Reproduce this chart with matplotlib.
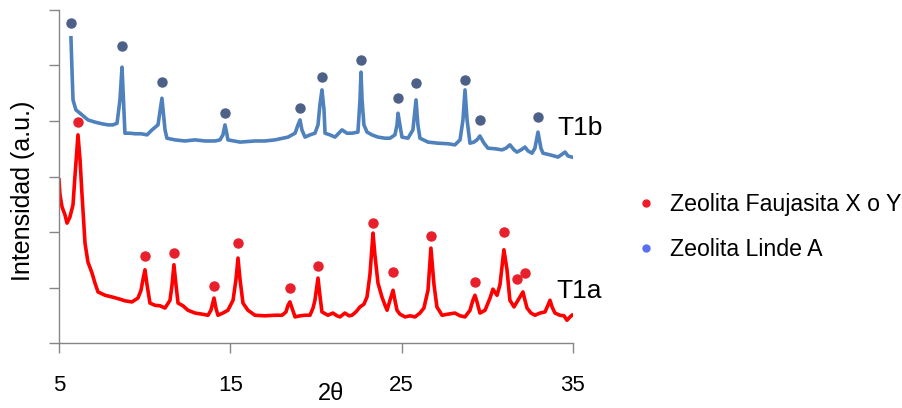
import matplotlib.pyplot as plt
from matplotlib.lines import Line2D

plt.rcParams['font.family'] = ['Liberation Sans', 'DejaVu Sans']

# T1b (Linde A) pattern
t1b_2theta = [5.70, 5.76, 5.82, 5.99, 6.23, 6.69, 7.10, 7.51, 7.86, 8.15, 8.39, 8.56, 8.68, 8.79, 8.85,
              9.14, 9.44, 9.79, 10.14, 10.43, 10.78, 11.01, 11.19, 11.30, 11.77, 12.35, 12.94, 13.52,
              14.11, 14.40, 14.57, 14.69, 14.81, 14.86, 15.57, 16.44, 17.02, 17.61, 18.37, 18.78,
              18.95, 19.07, 19.18, 19.36, 19.65, 19.94, 20.12, 20.23, 20.35, 20.47, 20.53, 20.82,
              21.11, 21.52, 21.81, 22.10, 22.45, 22.57, 22.63, 22.69, 22.80, 22.98, 23.27, 23.62,
              24.03, 24.32, 24.61, 24.73, 24.79, 24.90, 25.02, 25.37, 25.66, 25.84, 25.95, 26.07,
              26.54, 27.12, 27.71, 28.11, 28.41, 28.58, 28.70, 28.82, 28.99, 29.22, 29.40, 29.57,
              29.81, 30.04, 30.45, 30.86, 31.09, 31.32, 31.56, 31.73, 31.97, 32.20, 32.38, 32.61,
              32.78, 32.96, 33.13, 33.25, 33.66, 34.13, 34.54, 34.71, 34.94]
t1b_int = [5.50, 4.92, 4.38, 4.20, 4.14, 4.02, 3.98, 3.95, 3.93, 3.93, 3.96, 4.38, 4.97, 4.20, 3.78,
           3.78, 3.77, 3.77, 3.75, 3.84, 3.93, 4.41, 3.84, 3.69, 3.66, 3.64, 3.66, 3.64,
           3.64, 3.66, 3.75, 3.93, 3.75, 3.66, 3.62, 3.64, 3.64, 3.66, 3.71, 3.78,
           3.93, 4.02, 3.84, 3.71, 3.75, 3.78, 3.93, 4.29, 4.56, 4.20, 3.78, 3.75,
           3.71, 3.84, 3.78, 3.78, 3.80, 4.38, 4.88, 4.38, 3.93, 3.80, 3.75, 3.71,
           3.69, 3.69, 3.75, 3.93, 4.14, 3.93, 3.71, 3.69, 3.84, 4.38, 3.93, 3.69,
           3.62, 3.60, 3.59, 3.57, 3.66, 4.02, 4.56, 4.02, 3.60, 3.62, 3.66, 3.73,
           3.60, 3.51, 3.50, 3.48, 3.51, 3.57, 3.48, 3.44, 3.48, 3.53, 3.46, 3.42,
           3.51, 3.80, 3.51, 3.42, 3.39, 3.35, 3.44, 3.37, 3.35]

# T1a (Faujasita) pattern
t1a_2theta = [5.00, 5.06, 5.18, 5.35, 5.47, 5.64, 5.82, 5.93, 6.05, 6.11, 6.23, 6.34, 6.52, 6.69, 6.93,
              7.10, 7.28, 7.69, 8.09, 8.56, 8.85, 9.26, 9.61, 9.79, 9.90, 10.02, 10.14, 10.31, 10.60,
              10.90, 11.19, 11.48, 11.60, 11.71, 11.83, 11.95, 12.24, 12.53, 12.94, 13.35, 13.70,
              13.87, 14.05, 14.16, 14.28, 14.57, 14.86, 15.16, 15.33, 15.45, 15.57, 15.74, 16.03,
              16.44, 17.02, 17.61, 18.02, 18.25, 18.37, 18.48, 18.60, 18.78, 19.07, 19.36, 19.65,
              19.83, 19.94, 20.12, 20.23, 20.35, 20.70, 20.99, 21.23, 21.40, 21.69, 21.93, 22.10,
              22.33, 22.57, 22.80, 22.98, 23.15, 23.33, 23.44, 23.62, 23.85, 24.03, 24.15, 24.32,
              24.50, 24.61, 24.73, 24.90, 25.20, 25.49, 25.78, 26.07, 26.30, 26.54, 26.71, 26.89,
              27.06, 27.36, 27.71, 28.11, 28.41, 28.70, 28.99, 29.16, 29.28, 29.40, 29.57, 29.87,
              30.16, 30.33, 30.57, 30.74, 30.97, 31.15, 31.32, 31.56, 31.79, 31.97, 32.08, 32.20,
              32.32, 32.55, 32.78, 33.08, 33.37, 33.54, 33.66, 33.78, 33.95, 34.24, 34.48, 34.65,
              34.83, 34.94]
t1a_int = [2.94, 2.67, 2.45, 2.31, 2.16, 2.27, 2.49, 2.99, 3.48, 3.75, 3.30, 2.70, 1.80, 1.46, 1.26,
           1.08, 0.92, 0.86, 0.83, 0.79, 0.76, 0.74, 0.81, 0.95, 1.14, 1.32, 1.05, 0.72, 0.68,
           0.67, 0.63, 0.77, 1.05, 1.41, 1.05, 0.72, 0.67, 0.59, 0.54, 0.52, 0.50,
           0.59, 0.81, 0.63, 0.50, 0.54, 0.59, 0.77, 1.14, 1.53, 1.14, 0.72, 0.59,
           0.50, 0.49, 0.50, 0.50, 0.56, 0.68, 0.74, 0.63, 0.47, 0.49, 0.50, 0.50,
           0.63, 0.77, 1.17, 0.86, 0.56, 0.50, 0.54, 0.49, 0.47, 0.54, 0.49, 0.50,
           0.56, 0.65, 0.70, 0.83, 1.23, 1.98, 1.59, 1.08, 0.83, 0.68, 0.59, 0.77,
           0.95, 0.77, 0.59, 0.52, 0.47, 0.49, 0.47, 0.54, 0.63, 0.95, 1.71, 1.05,
           0.65, 0.50, 0.52, 0.54, 0.49, 0.47, 0.59, 0.77, 0.86, 0.74, 0.54, 0.59,
           0.81, 0.97, 0.86, 1.05, 1.68, 1.32, 0.77, 0.65, 0.77, 0.86, 0.92, 0.77,
           0.63, 0.54, 0.50, 0.54, 0.56, 0.68, 0.77, 0.65, 0.54, 0.50, 0.49, 0.41,
           0.47, 0.50]

# peak markers
linde_x = [5.70, 8.68, 11.01, 14.69, 19.07, 20.35, 22.63, 24.79, 25.84, 28.70, 29.57, 32.96]
linde_y = [5.77, 5.35, 4.70, 4.14, 4.23, 4.79, 5.10, 4.41, 4.68, 4.74, 4.02, 4.07]
fau_x = [6.11, 10.02, 11.71, 14.05, 15.45, 18.48, 20.12, 23.33, 24.50, 26.71, 29.28, 30.97, 31.73, 32.20]
fau_y = [3.98, 1.57, 1.62, 1.03, 1.80, 0.99, 1.39, 2.16, 1.28, 1.93, 1.10, 2.00, 1.15, 1.26]

x_ticks = [5, 15, 25, 35]

fig = plt.figure(figsize=(9.03, 4.08), dpi=100)
ax = fig.add_axes([0.0653, 0.1593, 0.5692, 0.8162])

ax.plot(t1b_2theta, t1b_int, color='#4f81bd', lw=2.6, solid_joinstyle='round')
ax.plot(t1a_2theta, t1a_int, color='#ff0000', lw=2.6, solid_joinstyle='round')
ax.plot(linde_x, linde_y, 'o', color='#4d6087', ms=6.5, ls='none', clip_on=False)
ax.plot(fau_x, fau_y, 'o', color='#e8202b', ms=6.5, ls='none', clip_on=False)

ax.text(34.1, 3.87, 'T1b', fontsize=19, va='center', ha='left', clip_on=False)
ax.text(34.05, 0.94, 'T1a', fontsize=19, va='center', ha='left', clip_on=False)

ax.set_xlim(5, 35)
ax.set_ylim(0, 6)
ax.set_xticks(x_ticks)
ax.set_yticks(range(0, 7))
ax.set_yticklabels([])
ax.tick_params(axis='x', labelsize=16, pad=16, length=7, color='#868686', width=1)
ax.tick_params(axis='y', length=7, color='#868686', width=1)
for s in ['top', 'right']:
    ax.spines[s].set_visible(False)
for s in ['left', 'bottom']:
    ax.spines[s].set_color('#868686')
    ax.spines[s].set_linewidth(1)

ax.set_xlabel('2θ', fontsize=17)
ax.xaxis.set_label_coords(0.529, -0.12)
ax.set_ylabel('Intensidad (a.u.)', fontsize=18)
ax.yaxis.set_label_coords(-0.047, 0.456)

handles = [Line2D([], [], marker='o', ls='none', color='#ee1c25', ms=5),
           Line2D([], [], marker='o', ls='none', color='#5870f0', ms=5)]
ax.legend(handles, ['Zeolita Faujasita X o Y', 'Zeolita Linde A'], loc='upper left',
          bbox_to_anchor=(0.703, 0.527), bbox_transform=fig.transFigure, frameon=False,
          fontsize=16.7, handlelength=1, handletextpad=0.5, labelspacing=0.95,
          borderpad=0, borderaxespad=0)

fig.savefig('out.png', dpi=100)
